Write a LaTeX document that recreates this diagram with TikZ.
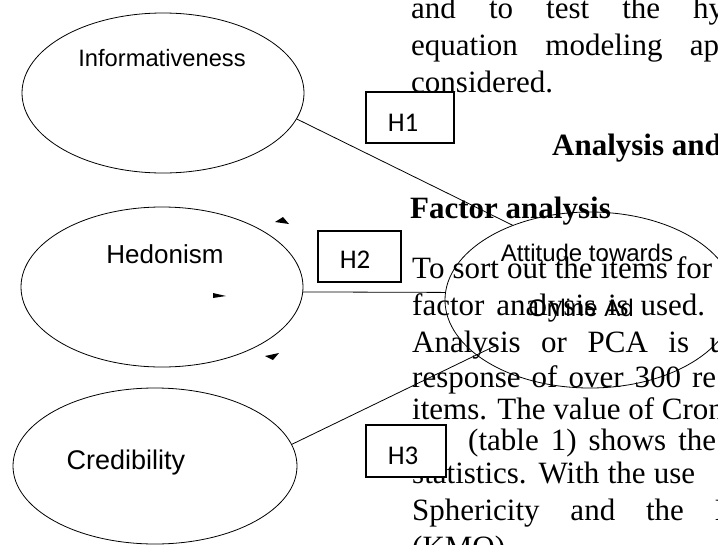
\documentclass[tikz,border=0pt]{standalone}
\usepackage{fontspec}
\setmainfont{Liberation Serif}
\newfontfamily\labelfont{Liberation Sans}
\newfontfamily\hypfont{Carlito}
\usetikzlibrary{shapes.geometric}

\begin{document}
\begin{tikzpicture}[x=1pt, y=-1pt,
latentnode/.style={ellipse, draw=black, line width=0.8pt, inner sep=0pt},
hypnode/.style={rectangle, draw=black, fill=white, line width=1.3pt, inner sep=0pt},
labeltext/.style={anchor=base, inner sep=0pt, font=\labelfont\fontsize{#1}{#1}\selectfont},
hyptext/.style={anchor=base, inner sep=0pt, font=\hypfont\fontsize{27}{27}\selectfont},
bodytext/.style={anchor=base west, inner sep=0pt, font=\fontsize{31}{35}\selectfont},
headtext/.style={anchor=base west, inner sep=0pt, font=\fontsize{31}{35}\selectfont\bfseries},
connector/.style={draw=black, line width=0.8pt},
]
\useasboundingbox (0,0) rectangle (718,544);
\clip (0,0) rectangle (718,544);

% page text behind the figure
\node[bodytext] (Line1)  at (411,18)  {\makebox[313pt][s]{and to test the hy}};
\node[bodytext] (Line2)  at (411,55)  {\makebox[308pt][s]{equation modeling ap}};
\node[bodytext] (Line3)  at (411,92)  {considered.};
\node[headtext] (HeadA)  at (552,155) {Analysis and};
\node[headtext] (HeadB)  at (410,218) {Factor analysis};
\node[bodytext] (Line4)  at (412,278) {\makebox[300pt][s]{To sort out the items for}};
\node[bodytext] (Line5)  at (412,315) {\makebox[293pt][s]{factor analysis is used.}};
\node[bodytext] (Line6)  at (412,352) {\makebox[313pt][s]{Analysis or PCA is u}};
\node[bodytext] (Line7)  at (412,387) {\makebox[304pt][s]{response of over 300 re}};
\node[bodytext] (Line8)  at (412,419) {items. The value of Cronb};
\node[bodytext] (Line9)  at (468,450) {\makebox[248pt][s]{(table 1) shows the}};
\node[bodytext] (Line10) at (412,483) {\makebox[283pt][s]{statistics. With the use}};
\node[bodytext] (Line11) at (412,520) {\makebox[325pt][s]{Sphericity and the K}};
\node[bodytext] (Line12) at (412,557) {(KMO)};

% constructs
\node[latentnode, minimum width=282pt, minimum height=160pt] (Info)     at (163,93)  {};
\node[latentnode, minimum width=282pt, minimum height=160pt] (Hedon)    at (162,287) {};
\node[latentnode, minimum width=284pt, minimum height=156pt] (Cred)     at (155,466) {};
\node[latentnode, minimum width=290pt, minimum height=176pt] (Attitude) at (590,300) {};

\node[labeltext=23.7] (InfoText)  at (162,66)  {Informativeness};
\node[labeltext=26]   (HedonText) at (165,263) {Hedonism};
\node[labeltext=27]   (CredText)  at (126,469) {Credibility};
\node[labeltext=24]   (AttText)   at (587,261) {Attitude towards};
\node[labeltext=24]   (AdText)    at (581,316) {Online Ad};

% paths
\draw[connector] (Info.-11) -- (Attitude.136);
\draw[connector] (Hedon.-2.4) -- (Attitude.177);
\draw[connector] (Cred.9) -- ([shift={(-93,45)}]Attitude.center);

% hypotheses
\node[hypnode, minimum width=88pt, minimum height=51pt] (H1) at (410,117.5) {};
\node[hypnode, minimum width=83pt, minimum height=51pt] (H2) at (359.5,256.5) {};
\node[hypnode, minimum width=80pt, minimum height=52pt] (H3) at (406,451) {};
\node[hyptext] (H1Text) at (403,131) {H1};
\node[hyptext] (H2Text) at (355,268) {H2};
\node[hyptext] (H3Text) at (403,464) {H3};

% stray arrow tips
\fill (275,222) -- (289,224) -- (283,217) -- cycle;
\fill (213,293) -- (226,296) -- (213,298) -- cycle;
\fill (265,356) -- (279,353) -- (273,360) -- cycle;

\end{tikzpicture}
\end{document}
